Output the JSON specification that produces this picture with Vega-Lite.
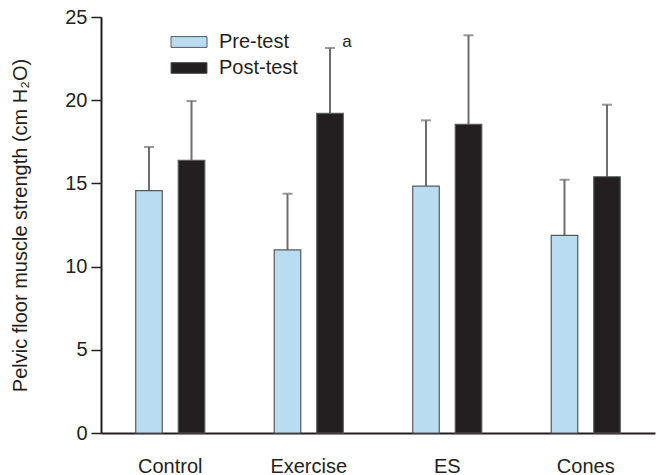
{
  "$schema": "https://vega.github.io/schema/vega-lite/v6.json",
  "width": 554,
  "height": 416,
  "autosize": {"type": "none"},
  "padding": {"left": 101, "top": 17, "right": 4, "bottom": 42},
  "background": "white",
  "config": {
    "view": {"stroke": null},
    "font": "Liberation Sans",
    "axis": {"labelFont": "Liberation Sans", "titleFont": "Liberation Sans", "labelColor": "#231f20", "titleColor": "#231f20", "grid": false}
  },
  "data": {
    "values": [
      {"group": "Control", "test": "Pre-test", "value": 14.56, "upper": 17.19, "note": ""},
      {"group": "Control", "test": "Post-test", "value": 16.39, "upper": 19.95, "note": ""},
      {"group": "Exercise", "test": "Pre-test", "value": 11.0, "upper": 14.38, "note": ""},
      {"group": "Exercise", "test": "Post-test", "value": 19.21, "upper": 23.14, "note": "a"},
      {"group": "ES", "test": "Pre-test", "value": 14.84, "upper": 18.79, "note": ""},
      {"group": "ES", "test": "Post-test", "value": 18.55, "upper": 23.9, "note": ""},
      {"group": "Cones", "test": "Pre-test", "value": 11.88, "upper": 15.22, "note": ""},
      {"group": "Cones", "test": "Post-test", "value": 15.4, "upper": 19.73, "note": ""}
    ]
  },
  "encoding": {
    "x": {
      "field": "group", "type": "nominal",
      "sort": ["Control", "Exercise", "ES", "Cones"],
      "scale": {"paddingInner": 0.386, "paddingOuter": 0.193},
      "axis": {"title": null, "labelAngle": 0, "labelFontSize": 20, "labelPadding": 23, "ticks": false, "domainColor": "#231f20", "domainWidth": 2}
    },
    "xOffset": {
      "field": "test", "type": "nominal",
      "sort": ["Pre-test", "Post-test"],
      "scale": {"paddingInner": 0.376, "paddingOuter": 0.188}
    }
  },
  "layer": [
    {
      "mark": {"type": "rule", "color": "#6d6e71", "strokeWidth": 2},
      "encoding": {
        "y": {"field": "value", "type": "quantitative"},
        "y2": {"field": "upper"}
      }
    },
    {
      "mark": {"type": "tick", "color": "#6d6e71", "size": 10, "thickness": 2},
      "encoding": {
        "y": {"field": "upper", "type": "quantitative"}
      }
    },
    {
      "mark": {"type": "bar", "stroke": "#58595b", "strokeWidth": 1.2},
      "encoding": {
        "y": {
          "field": "value", "type": "quantitative",
          "scale": {"domain": [0, 25], "nice": false},
          "axis": {
            "title": "Pelvic floor muscle strength (cm H₂O)",
            "titleFontSize": 20, "titleFontWeight": "normal", "titlePadding": 34,
            "values": [0, 5, 10, 15, 20, 25],
            "labelFontSize": 20, "labelPadding": 4,
            "tickSize": 10, "tickColor": "#231f20", "tickWidth": 1.5,
            "domainColor": "#231f20", "domainWidth": 2
          }
        },
        "fill": {
          "field": "test", "type": "nominal",
          "scale": {"domain": ["Pre-test", "Post-test"], "range": ["#b9dcf1", "#231f20"]},
          "legend": {
            "title": null, "orient": "none", "legendX": 78, "legendY": 15,
            "symbolType": "M-3,-0.9H3V0.9H-3Z", "symbolSize": 144,
            "symbolStrokeColor": "#58595b", "symbolStrokeWidth": 1,
            "labelFontSize": 20, "labelColor": "#231f20", "labelFont": "Liberation Sans",
            "labelOffset": 20, "rowPadding": 6
          }
        }
      }
    },
    {
      "mark": {"type": "text", "fontSize": 17, "dx": 17, "dy": -6, "color": "#231f20", "baseline": "middle"},
      "encoding": {
        "y": {"field": "upper", "type": "quantitative"},
        "text": {"field": "note"}
      }
    }
  ]
}
